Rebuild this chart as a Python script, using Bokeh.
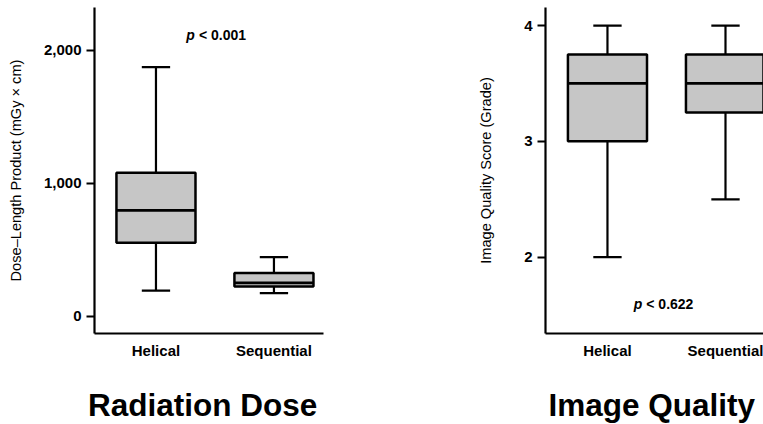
from bokeh.plotting import figure
from bokeh.layouts import row, column
from bokeh.models import (FixedTicker, NumeralTickFormatter, Range1d,
                          Label, ColumnDataSource)
from bokeh.embed import file_html
from bokeh.resources import INLINE

# ---------------- data ----------------
groups = ["Helical", "Sequential"]
positions = [1, 2]

dose_lower = [195, 175]
dose_q1 = [554, 226]
dose_median = [797, 253]
dose_q3 = [1080, 326]
dose_upper = [1875, 446]
dose_ticks = [0, 1000, 2000]
dose_p = "< 0.001"

iq_lower = [2.0, 2.5]
iq_q1 = [3.0, 3.25]
iq_median = [3.5, 3.5]
iq_q3 = [3.75, 3.75]
iq_upper = [4.0, 4.0]
iq_ticks = [2, 3, 4]
iq_p = "< 0.622"

titles = ["Radiation Dose", "Image Quality"]

# ---------------- style ----------------
FONT = "Liberation Sans"
BOX_FILL = "#c6c6c6"
BOX_W = 0.67
CAP_W = 0.24
TOP_H = 363
CAP_H = 424 - TOP_H


def panel(width, border_left, border_right, x_rng, y_rng,
          lower, q1, med, q3, upper, ticks, ylabel,
          p_text, p_x, p_y, label_standoff, thousands=False):
    p = figure(width=width, height=TOP_H,
               x_range=Range1d(*x_rng), y_range=Range1d(*y_rng),
               output_backend="svg", toolbar_location=None,
               min_border_left=border_left, min_border_right=border_right,
               min_border_top=7, min_border_bottom=30)
    p.outline_line_color = None
    p.grid.visible = False

    src = ColumnDataSource(dict(
        x=positions, lower=lower, q1=q1, med=med, q3=q3, upper=upper,
        x0=[x - BOX_W / 2 for x in positions],
        x1=[x + BOX_W / 2 for x in positions],
        c0=[x - CAP_W / 2 for x in positions],
        c1=[x + CAP_W / 2 for x in positions],
    ))

    # whiskers
    p.segment(x0="x", y0="q3", x1="x", y1="upper", line_color="black",
              line_width=2.2, source=src)
    p.segment(x0="x", y0="q1", x1="x", y1="lower", line_color="black",
              line_width=2.2, source=src)
    p.segment(x0="c0", y0="upper", x1="c1", y1="upper", line_color="black",
              line_width=2.2, source=src)
    p.segment(x0="c0", y0="lower", x1="c1", y1="lower", line_color="black",
              line_width=2.2, source=src)
    # boxes
    p.vbar(x="x", width=BOX_W, bottom="q1", top="q3", fill_color=BOX_FILL,
           line_color="black", line_width=2.5, source=src)
    # medians
    p.segment(x0="x0", y0="med", x1="x1", y1="med", line_color="black",
              line_width=2.7, source=src)

    # axes
    for ax in (p.xaxis, p.yaxis):
        ax.axis_line_width = 2.2
        ax.axis_line_color = "black"
        ax.minor_tick_line_color = None
        ax.major_label_text_font = FONT
        ax.major_label_text_font_style = "bold"
        ax.major_label_text_font_size = "15px"
        ax.major_label_text_color = "black"

    p.xaxis.ticker = FixedTicker(ticks=positions)
    p.xaxis.major_label_overrides = {x: g for x, g in zip(positions, groups)}
    p.xaxis.major_tick_line_color = None
    p.xaxis.major_tick_out = 0
    p.xaxis.major_tick_in = 0
    p.xaxis.major_label_standoff = 8

    p.yaxis.ticker = FixedTicker(ticks=ticks)
    if thousands:
        p.yaxis.formatter = NumeralTickFormatter(format="0,0")
    p.yaxis.major_tick_line_width = 2
    p.yaxis.major_tick_out = 8
    p.yaxis.major_tick_in = 0
    p.yaxis.major_label_standoff = 5
    p.yaxis.axis_label = ylabel
    p.yaxis.axis_label_text_font = FONT
    p.yaxis.axis_label_text_font_style = "normal"
    p.yaxis.axis_label_text_font_size = "14.6px"
    p.yaxis.axis_label_text_color = "black"
    p.yaxis.axis_label_standoff = label_standoff

    # p-value annotation
    p.add_layout(Label(x=p_x, y=p_y, text="p", text_align="right",
                       text_baseline="middle", text_font=FONT,
                       text_font_style="bold italic", text_font_size="14px",
                       text_color="black"))
    p.add_layout(Label(x=p_x + 0.034, y=p_y, text=p_text, text_align="left",
                       text_baseline="middle", text_font=FONT,
                       text_font_style="bold", text_font_size="14px",
                       text_color="black"))
    return p


def caption(width, text, left_px):
    c = figure(width=width, height=CAP_H,
               x_range=Range1d(0, width), y_range=Range1d(0, CAP_H),
               output_backend="svg", toolbar_location=None,
               x_axis_location=None, y_axis_location=None,
               min_border=0, min_border_left=0, min_border_right=0,
               min_border_top=0, min_border_bottom=0)
    c.outline_line_color = None
    c.grid.visible = False
    c.add_layout(Label(x=left_px, y=20, text=text, text_align="left",
                       text_baseline="alphabetic", text_font=FONT,
                       text_font_size="31.5px", text_font_style="bold",
                       text_color="black"))
    return c


left = panel(440, 94, 117, (0.479, 2.42), (-128, 2323),
             dose_lower, dose_q1, dose_median, dose_q3, dose_upper,
             dose_ticks, "Dose\u2013Length Product (mGy \u00d7 cm)",
             dose_p, 1.33, 2120, 17, thousands=True)

right = panel(323, 105, 0, (0.475, 2.322), (1.341, 4.156),
              iq_lower, iq_q1, iq_median, iq_q3, iq_upper,
              iq_ticks, "Image Quality Score (Grade)",
              iq_p, 1.295, 1.60, 27)

cap_left = caption(440, titles[0], 87.5)
cap_right = caption(323, titles[1], 108)

layout = column(row(left, right), row(cap_left, cap_right))
open("out.html", "w").write(file_html(layout, INLINE))
